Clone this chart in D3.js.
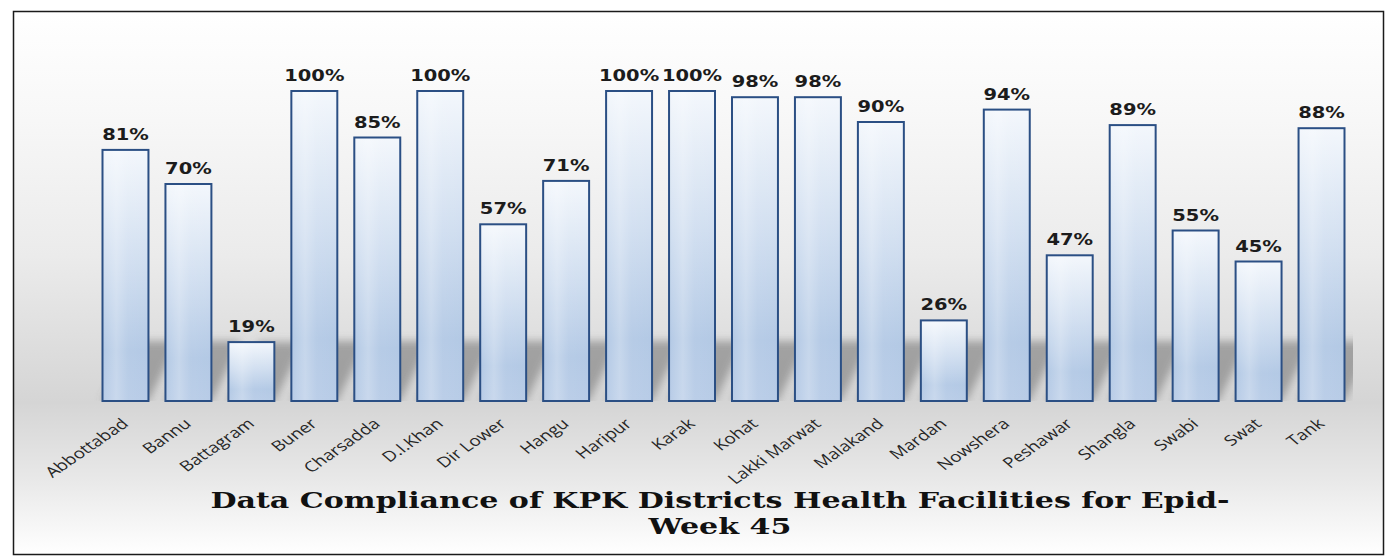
<!DOCTYPE html>
<html>
<head>
<meta charset="utf-8">
<script src="https://cdn.jsdelivr.net/npm/d3@7"></script>
<style>
	body { margin: 0; background: #fff; }
	svg { display: block; }
</style>
</head>
<body>
<svg id="chart" width="1394" height="556"></svg>
<script>
const districts = ["Abbottabad", "Bannu", "Battagram", "Buner", "Charsadda", "D.I.Khan", "Dir Lower", "Hangu", "Haripur", "Karak",
	"Kohat", "Lakki Marwat", "Malakand", "Mardan", "Nowshera", "Peshawar", "Shangla", "Swabi", "Swat", "Tank"]
const compliance = [81, 70, 19, 100, 85, 100, 57, 71, 100, 100, 98, 98, 90, 26, 94, 47, 89, 55, 45, 88]
const titleLines = ["Data Compliance of KPK Districts Health Facilities for Epid-", "Week 45"]

const svg = d3.select("#chart"),
	base = 401,
	stretch = 1.3 // the source picture is widened, text too

const x = d3.scaleBand().domain(districts).range([94, 1353]).paddingInner(0.27).paddingOuter(0.135)
const y = d3.scaleLinear().domain([0, 100]).range([base, 91])

const defs = svg.append("defs")

const bg = defs.append("linearGradient").attr("id", "bgGrad")
	.attr("x1", 0).attr("y1", 0).attr("x2", 0).attr("y2", 1)
bg.selectAll("stop")
	.data([[0, "#ffffff"], [0.18, "#f8f8f8"], [0.45, "#ebebeb"], [0.72, "#d5d5d5"], [0.86, "#e8e8e8"], [1, "#ffffff"]])
	.enter().append("stop").attr("offset", d=>d[0]).attr("stop-color", d=>d[1])

const barGrad = defs.append("linearGradient").attr("id", "barGrad")
	.attr("x1", 0).attr("y1", 0).attr("x2", 0).attr("y2", 1)
barGrad.selectAll("stop")
	.data([[0, "#f3f7fc"], [0.45, "#d0def0"], [0.8, "#b3c9e5"], [1, "#b8cce7"]])
	.enter().append("stop").attr("offset", d=>d[0]).attr("stop-color", d=>d[1])

const sheen = defs.append("linearGradient").attr("id", "sheen")
	.attr("x1", 0).attr("y1", 0).attr("x2", 1).attr("y2", 0)
sheen.selectAll("stop")
	.data([[0, 0], [0.3, 0.25], [0.55, 0.05], [1, 0]])
	.enter().append("stop").attr("offset", d=>d[0]).attr("stop-color", "#fff").attr("stop-opacity", d=>d[1])

defs.append("filter").attr("id", "blur").attr("x", "-50%").attr("y", "-50%").attr("width", "200%").attr("height", "200%")
	.append("feGaussianBlur").attr("stdDeviation", 4)

defs.append("clipPath").attr("id", "plotClip")
	.append("rect").attr("x", x.range()[0]).attr("y", 20).attr("width", x.range()[1] - x.range()[0]).attr("height", base - 20)

// frame
svg.append("rect")
	.attr("x", 13.5).attr("y", 11.5).attr("width", 1370).attr("height", 543)
	.attr("fill", "url(#bgGrad)").attr("stroke", "#1a1a1a").attr("stroke-width", 1.5)

// shadow cast behind the bars
const rows = districts.map((d, i) => ({name: d, value: compliance[i]}))
svg.append("g").attr("clip-path", "url(#plotClip)")
	.append("g").attr("filter", "url(#blur)")
	.selectAll("path").data(rows).enter().append("path")
	.attr("d", d => {
		const x0 = x(d.name), x1 = x0 + x.bandwidth(),
		h = Math.min(base - y(d.value), 60), dx = 30
		return `M${x0},${base} L${x1},${base} L${x1 + dx},${base - h} L${x0 + dx},${base - h} Z`
	})
	.attr("fill", "#666").attr("opacity", 0.5)

// bars
const bars = svg.append("g").selectAll("g").data(rows).enter().append("g")
bars.append("rect")
	.attr("x", d => x(d.name)).attr("y", d => y(d.value))
	.attr("width", x.bandwidth()).attr("height", d => base - y(d.value))
	.attr("fill", "url(#barGrad)")
bars.append("rect")
	.attr("x", d => x(d.name)).attr("y", d => y(d.value))
	.attr("width", x.bandwidth()).attr("height", d => base - y(d.value))
	.attr("fill", "url(#sheen)")
	.attr("stroke", "#2b4f84").attr("stroke-width", 2)

// value labels
bars.append("text")
	.attr("transform", d => `translate(${x(d.name) + x.bandwidth() / 2},${y(d.value) - 10}) scale(${stretch},1)`)
	.attr("text-anchor", "middle")
	.attr("font-family", "'DejaVu Sans', Verdana, sans-serif")
	.attr("font-weight", "bold").attr("font-size", 15)
	.attr("fill", "#1c1c1c")
	.text(d => d.value + "%")

// category labels, rotated then widened like the source
svg.append("g").selectAll("text").data(districts).enter().append("text")
	.attr("transform", d => `translate(${x(d) + x.bandwidth() / 2 + 4},${base + 24}) scale(${stretch},1) rotate(-42)`)
	.attr("text-anchor", "end")
	.attr("font-family", "'Open Sans', sans-serif")
	.attr("font-size", 14.5)
	.attr("fill", "#262626")
	.text(d => d)

// title
svg.append("g").selectAll("text").data(titleLines).enter().append("text")
	.attr("transform", (d, i) => `translate(720,${508 + i * 26}) scale(1.4,1)`)
	.attr("text-anchor", "middle")
	.attr("font-family", "'DejaVu Serif', serif")
	.attr("font-weight", "bold").attr("font-size", 21.5)
	.attr("fill", "#111")
	.text(d => d)
</script>
</body>
</html>
